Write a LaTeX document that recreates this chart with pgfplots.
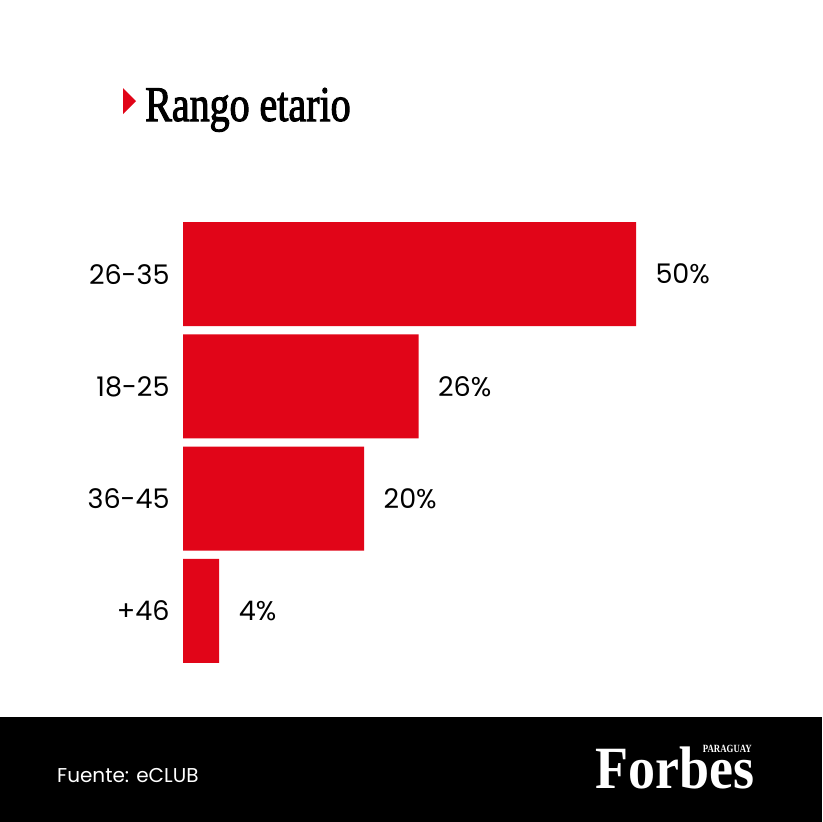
\documentclass[border=0pt]{standalone}
\usepackage{pgfplots}
\pgfplotsset{compat=1.18}
\usepackage{fontspec}
\setmainfont{Poppins}
\newfontfamily\titlefont[FakeStretch=0.8,FakeBold=2]{Liberation Serif}
\newfontfamily\logofont[FakeStretch=0.9]{Liberation Serif Bold}
\newfontfamily\smalllogofont[FakeStretch=0.8]{Liberation Serif Bold}
\definecolor{fred}{HTML}{E10518}
\begin{document}
\begin{tikzpicture}[x=1pt,y=1pt]
\useasboundingbox (0,0) rectangle (822,-822);
\fill[white] (0,0) rectangle (822,-822);
\fill[black] (0,-717) rectangle (822,-822);
% title
\fill[fred] (123,-88) -- (123,-114) -- (136,-101) -- cycle;
\node[anchor=base west, inner sep=0pt, font=\titlefont\fontsize{50}{54}\selectfont] at (145,-121) {Rango etario};
% footer
\node[anchor=base west, inner sep=0pt, text=white, font=\fontsize{20}{24}\selectfont] at (57,-782) {Fuente: eCLUB};
\node[anchor=base west, inner sep=0pt, text=white, font=\logofont\fontsize{60}{60}\selectfont] at (595,-788) {Forbes};
\node[anchor=north east, inner sep=0pt, text=white, font=\smalllogofont\fontsize{11}{11}\selectfont] at (752,-745) {PARAGUAY};
\begin{axis}[
  at={(183pt,-667pt)}, anchor=south west,
  scale only axis, width=453pt, height=449pt,
  xbar, bar width=104pt, bar shift=0pt,
  xmin=0, xmax=50, ymin=-0.5, ymax=3.5, y dir=reverse,
  axis line style={draw=none}, major tick length=0pt,
  xtick=\empty, ytick={0,1,2,3},
  yticklabels={26-35,18-25,36-45,+46},
  yticklabel style={font=\fontsize{27}{30}\selectfont, xshift=-10pt},
  /pgf/number format/assume math mode=true,
  nodes near coords={\pgfmathprintnumber{\pgfplotspointmeta}\%},
  nodes near coords style={font=\fontsize{27}{30}\selectfont, anchor=west, xshift=16pt},
  clip=false,
]
\addplot[fill=fred, draw=none] coordinates {(50,0) (26,1) (20,2) (4,3)};
\end{axis}
\end{tikzpicture}
\end{document}
